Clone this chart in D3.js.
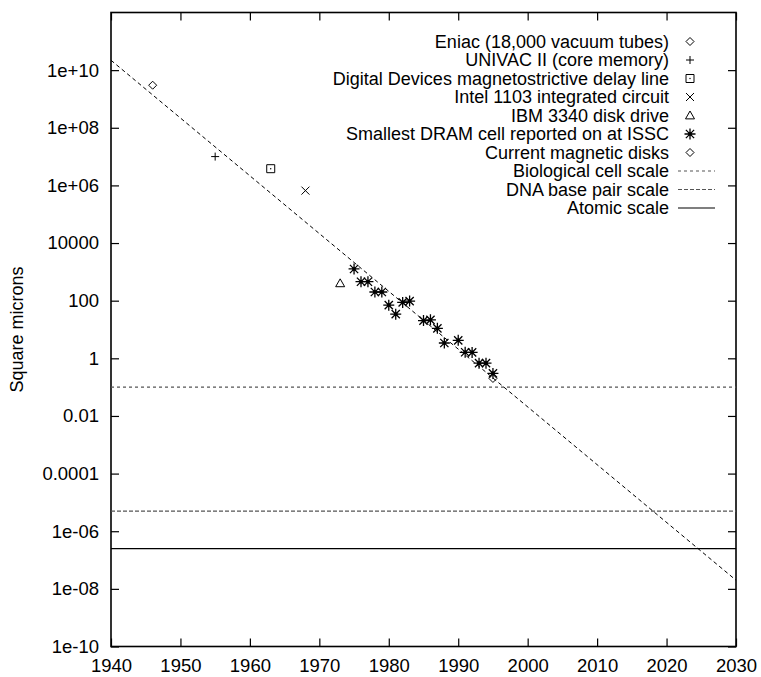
<!DOCTYPE html>
<html>
<head>
<meta charset="utf-8">
<script src="https://cdn.jsdelivr.net/npm/d3@7/dist/d3.min.js"></script>
<style>
  body { margin: 0; background: #fff; }
  text { font-family: "Liberation Sans", Arial, Helvetica, sans-serif; font-size: 18px; fill: #000; }
</style>
</head>
<body>
<svg id="chart" width="761" height="677"></svg>
<script>
// single machines
var eniacYears = [1946], eniacValues = [3e9];
var univacYears = [1955], univacValues = [1e7];
var delayYears = [1963], delayValues = [3.8e6];
var intelYears = [1968], intelValues = [6.6e5];
var ibmYears = [1973], ibmValues = [400];
var diskYears = [1995], diskValues = [0.2];

// smallest DRAM cell at ISSCC
var dramYears = [1975, 1976, 1977, 1978, 1979, 1980, 1981, 1982, 1983, 1985,
                 1986, 1987, 1988, 1990, 1991, 1992, 1993, 1994, 1995];
var dramValues = [1260, 455, 455, 200, 200, 70, 34, 87, 97, 20.4,
                  21.7, 11, 3.4, 4.2, 1.62, 1.6, 0.68, 0.68, 0.3];

// trend line end points
var trendYears = [1940, 2030];
var trendValues = [2.2e10, 2e-8];

// reference scales
var cellScale = 0.1, dnaScale = 5e-6, atomScale = 2.5e-7;

var xTicks = [1940, 1950, 1960, 1970, 1980, 1990, 2000, 2010, 2020, 2030];
var yTicks = [1e-10, 1e-8, 1e-6, 1e-4, 1e-2, 1, 1e2, 1e4, 1e6, 1e8, 1e10];
var yTickLabels = ["1e-10", "1e-08", "1e-06", "0.0001", "0.01", "1", "100", "10000", "1e+06", "1e+08", "1e+10"];

var svg = d3.select("#chart"),
    plotLeft = 111, plotTop = 12.5, plotRight = 736, plotBottom = 646.5,
    width = plotRight - plotLeft,
    height = plotBottom - plotTop;

var x = d3.scaleLinear().domain([1940, 2030]).range([0, width]);
var y = d3.scaleLog().domain([1e-10, 1e12]).range([height, 0]);

var g = svg.append("g").attr("transform", "translate(" + plotLeft + "," + plotTop + ")");

g.append("clipPath").attr("id", "clip")
    .append("rect").attr("width", width).attr("height", height);

// axes, ticks pointing inward on all four sides
function styleAxis(sel) {
    sel.select(".domain").remove();
    sel.selectAll(".tick line").attr("stroke", "#000").attr("stroke-width", 1.2);
    sel.selectAll(".tick text").attr("fill", "#000").style("font-size", "18.5px")
        .style("font-family", "'Liberation Sans', Arial, sans-serif");
}

g.append("g")
    .attr("transform", "translate(0," + height + ")")
    .call(d3.axisBottom(x).tickValues(xTicks).tickFormat(d3.format("d")).tickSizeInner(-8).tickPadding(6))
    .call(styleAxis)
    .selectAll(".tick text").attr("dy", "1.05em");

g.append("g")
    .call(d3.axisTop(x).tickValues(xTicks).tickFormat("").tickSizeInner(-8))
    .call(styleAxis);

g.append("g")
    .call(d3.axisLeft(y).tickValues(yTicks).tickFormat(function(d, i) { return yTickLabels[i]; })
        .tickSizeInner(-8).tickPadding(12))
    .call(styleAxis);

g.append("g")
    .attr("transform", "translate(" + width + ",0)")
    .call(d3.axisRight(y).tickValues(yTicks).tickFormat("").tickSizeInner(-8))
    .call(styleAxis);

g.append("rect")
    .attr("width", width).attr("height", height)
    .attr("fill", "none").attr("stroke", "#000").attr("stroke-width", 1.6);

svg.append("text")
    .attr("transform", "translate(23," + (plotTop + height / 2) + ") rotate(-90)")
    .attr("text-anchor", "middle")
    .text("Square microns");

// symbol shapes in the gnuplot style
function symbolPath(type, s) {
    var h = s / 2;
    switch (type) {
        case "diamond": return "M0," + (-h) + "L" + h + ",0L0," + h + "L" + (-h) + ",0Z";
        case "plus": return "M" + (-h) + ",0H" + h + "M0," + (-h) + "V" + h;
        case "square": return "M" + (-h) + "," + (-h) + "H" + h + "V" + h + "H" + (-h) + "Z";
        case "cross": return "M" + (-h) + "," + (-h) + "L" + h + "," + h + "M" + (-h) + "," + h + "L" + h + "," + (-h);
        case "triangle": return "M0," + (-h) + "L" + h + "," + (h * 0.75) + "L" + (-h) + "," + (h * 0.75) + "Z";
        case "star":
            var k = h * 0.75;
            return "M" + (-h) + ",0H" + h + "M0," + (-h) + "V" + h +
                "M" + (-k) + "," + (-k) + "L" + k + "," + k + "M" + (-k) + "," + k + "L" + k + "," + (-k);
    }
}

var pointSeries = [
    { name: "Eniac (18,000 vacuum tubes)", years: eniacYears, values: eniacValues, shape: "diamond", size: 8 },
    { name: "UNIVAC II (core memory)", years: univacYears, values: univacValues, shape: "plus", size: 8 },
    { name: "Digital Devices magnetostrictive delay line", years: delayYears, values: delayValues, shape: "square", size: 8 },
    { name: "Intel 1103 integrated circuit", years: intelYears, values: intelValues, shape: "cross", size: 8 },
    { name: "IBM 3340 disk drive", years: ibmYears, values: ibmValues, shape: "triangle", size: 9 },
    { name: "Smallest DRAM cell reported on at ISSC", years: dramYears, values: dramValues, shape: "star", size: 11 },
    { name: "Current magnetic disks", years: diskYears, values: diskValues, shape: "diamond", size: 8 }
];

var lineSeries = [
    { name: "Biological cell scale", value: cellScale, dash: "3,3", color: "#555" },
    { name: "DNA base pair scale", value: dnaScale, dash: "4,2", color: "#555" },
    { name: "Atomic scale", value: atomScale, dash: null, color: "#000" }
];

var plot = g.append("g").attr("clip-path", "url(#clip)");

lineSeries.forEach(function(s) {
    plot.append("line")
        .attr("x1", 0).attr("x2", width)
        .attr("y1", y(s.value)).attr("y2", y(s.value))
        .attr("stroke", s.color).attr("stroke-width", 1.2)
        .attr("stroke-dasharray", s.dash);
});

plot.append("path")
    .datum(d3.zip(trendYears, trendValues))
    .attr("d", d3.line().x(function(d) { return x(d[0]); }).y(function(d) { return y(d[1]); }))
    .attr("fill", "none").attr("stroke", "#000").attr("stroke-width", 1)
    .attr("stroke-dasharray", "4,3");

function drawSymbol(sel, s) {
    sel.append("path")
        .attr("d", symbolPath(s.shape, s.size))
        .attr("fill", "none").attr("stroke", "#000")
        .attr("stroke-width", s.shape === "star" ? 1.3 : 1);
    if (s.shape === "star" || s.shape === "square") {
        sel.append("circle").attr("r", s.shape === "star" ? 1.8 : 0.7).attr("fill", "#000");
    }
}

pointSeries.forEach(function(s) {
    plot.selectAll(null)
        .data(d3.zip(s.years, s.values))
        .enter().append("g")
        .attr("transform", function(d) { return "translate(" + x(d[0]) + "," + y(d[1]) + ")"; })
        .each(function() { drawSymbol(d3.select(this), s); });
});

// legend, top right
var legend = svg.append("g").attr("transform", "translate(669,41.5)");
var rowH = 18.5;

pointSeries.forEach(function(s, i) {
    var row = legend.append("g").attr("transform", "translate(0," + i * rowH + ")");
    row.append("text").attr("text-anchor", "end").attr("dy", "0.35em").text(s.name);
    var sym = row.append("g").attr("transform", "translate(21,0)");
    drawSymbol(sym, s);
});

lineSeries.forEach(function(s, i) {
    var row = legend.append("g").attr("transform", "translate(0," + (pointSeries.length + i) * rowH + ")");
    row.append("text").attr("text-anchor", "end").attr("dy", "0.35em").text(s.name);
    row.append("line")
        .attr("x1", 9).attr("x2", 46)
        .attr("stroke", s.color).attr("stroke-width", 1.2)
        .attr("stroke-dasharray", s.dash);
});
</script>
</body>
</html>
